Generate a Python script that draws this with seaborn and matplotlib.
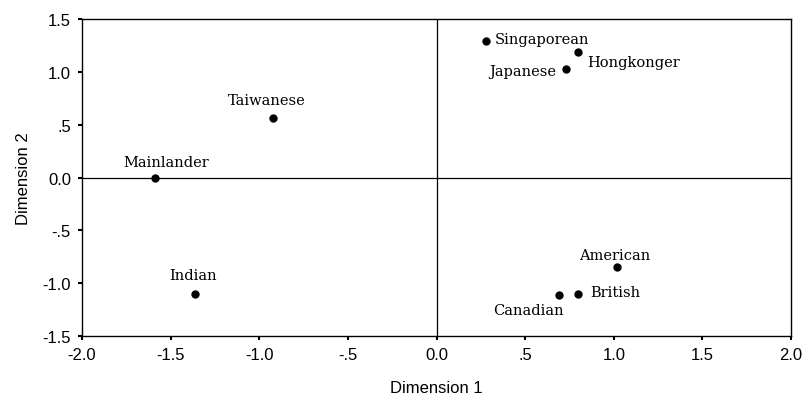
import matplotlib
matplotlib.use("Agg")
import matplotlib.pyplot as plt
import seaborn as sns
import pandas as pd

groups = ["Singaporean", "Hongkonger", "Japanese", "Taiwanese", "Mainlander",
          "Indian", "American", "British", "Canadian"]
dim1 = [0.28, 0.80, 0.73, -0.92, -1.59, -1.36, 1.02, 0.80, 0.69]
dim2 = [1.29, 1.19, 1.03, 0.56, 0.00, -1.10, -0.85, -1.10, -1.11]
xticks = [-2.0, -1.5, -1.0, -0.5, 0.0, 0.5, 1.0, 1.5, 2.0]
xticklabels = ["-2.0", "-1.5", "-1.0", "-.5", "0.0", ".5", "1.0", "1.5", "2.0"]
yticks = [-1.5, -1.0, -0.5, 0.0, 0.5, 1.0, 1.5]
yticklabels = ["-1.5", "-1.0", "-.5", "0.0", ".5", "1.0", "1.5"]

# label offsets in points (dx, dy), alignments
offsets = {
    "Singaporean": (6.5, 1.5, "left", "center"),
    "Hongkonger": (6.5, -7, "left", "center"),
    "Japanese": (-7, -1.5, "right", "center"),
    "Taiwanese": (-5, 13, "center", "center"),
    "Mainlander": (8.5, 11.5, "center", "center"),
    "Indian": (-2, 13.5, "center", "center"),
    "American": (-2, 8.6, "center", "center"),
    "British": (8.6, 1.5, "left", "center"),
    "Canadian": (-22, -11, "center", "center"),
}

df = pd.DataFrame({"group": groups, "Dimension 1": dim1, "Dimension 2": dim2})

sns.set_style("ticks")
plt.rcParams["font.family"] = ["Liberation Sans", "DejaVu Sans"]
plt.rcParams["text.color"] = "black"
plt.rcParams["axes.labelcolor"] = "black"
plt.rcParams["xtick.color"] = "black"
plt.rcParams["ytick.color"] = "black"

fig = plt.figure(figsize=(8.08, 4.10), dpi=100)
ax = fig.add_axes([0.1015, 0.178, 0.8775, 0.773])

ax.axhline(0, color="black", lw=0.9, zorder=1)
ax.axvline(0, color="black", lw=0.9, zorder=1)

sns.scatterplot(data=df, x="Dimension 1", y="Dimension 2", ax=ax,
                color="black", s=36, edgecolor="black", linewidth=0, zorder=3)

for g, x, y in zip(groups, dim1, dim2):
    dx, dy, ha, va = offsets[g]
    ax.annotate(g, (x, y), xytext=(dx, dy), textcoords="offset points",
                ha=ha, va=va, fontsize=10.5, color="black", family=["DejaVu Serif"])

ax.set_xlim(-2.0, 2.0)
ax.set_ylim(-1.5, 1.5)
ax.set_xticks(xticks)
ax.set_xticklabels(xticklabels)
ax.set_yticks(yticks)
ax.set_yticklabels(yticklabels)
ax.tick_params(axis="both", length=3, width=1.5, labelsize=12, colors="black",
               labelcolor="black", pad=5)
for sp in ax.spines.values():
    sp.set_visible(True)
    sp.set_color("black")
    sp.set_linewidth(1.0)

ax.set_xlabel("Dimension 1", fontsize=12, labelpad=13, color="black")
ax.set_ylabel("Dimension 2", fontsize=12, labelpad=8, color="black")

fig.savefig("out.png", dpi=100)
